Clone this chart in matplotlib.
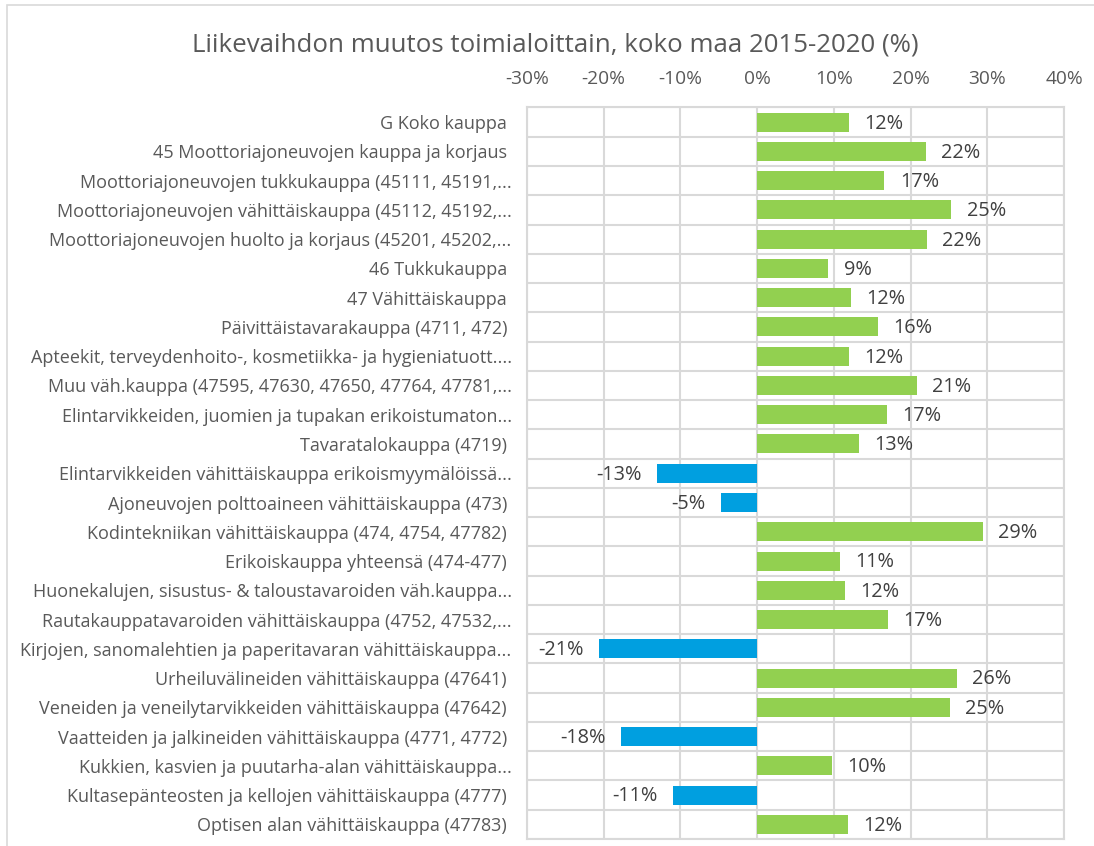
import matplotlib
matplotlib.use("Agg")
import matplotlib.pyplot as plt
from matplotlib.ticker import FixedLocator, FuncFormatter
from matplotlib.patches import Rectangle

categories = [
    "G Koko kauppa ",
    "45 Moottoriajoneuvojen kauppa ja korjaus ",
    "Moottoriajoneuvojen tukkukauppa (45111, 45191,...",
    "Moottoriajoneuvojen vähittäiskauppa (45112, 45192,...",
    "Moottoriajoneuvojen huolto ja korjaus (45201, 45202,...",
    "46 Tukkukauppa ",
    "47 Vähittäiskauppa ",
    "Päivittäistavarakauppa (4711, 472) ",
    "Apteekit, terveydenhoito-, kosmetiikka- ja hygieniatuott....",
    "Muu väh.kauppa (47595, 47630, 47650, 47764, 47781,...",
    "Elintarvikkeiden, juomien ja tupakan erikoistumaton...",
    "Tavaratalokauppa (4719) ",
    "Elintarvikkeiden vähittäiskauppa erikoismyymälöissä...",
    "Ajoneuvojen polttoaineen vähittäiskauppa (473) ",
    "Kodintekniikan vähittäiskauppa (474, 4754, 47782) ",
    "Erikoiskauppa yhteensä (474-477) ",
    "Huonekalujen, sisustus- & taloustavaroiden väh.kauppa...",
    "Rautakauppatavaroiden vähittäiskauppa (4752, 47532,...",
    "Kirjojen, sanomalehtien ja paperitavaran vähittäiskauppa...",
    "Urheiluvälineiden vähittäiskauppa (47641) ",
    "Veneiden ja veneilytarvikkeiden vähittäiskauppa (47642) ",
    "Vaatteiden ja jalkineiden vähittäiskauppa (4771, 4772) ",
    "Kukkien, kasvien ja puutarha-alan vähittäiskauppa...",
    "Kultasepänteosten ja kellojen vähittäiskauppa (4777) ",
    "Optisen alan vähittäiskauppa (47783) ",
]
values = [12.0, 22.0, 16.6, 25.3, 22.1, 9.3, 12.2, 15.7, 12.0, 20.8, 16.9, 13.3,
          -13.0, -4.7, 29.4, 10.8, 11.5, 17.0, -20.6, 26.0, 25.1, -17.8, 9.8, -11.0, 11.8]
labels = ["12%", "22%", "17%", "25%", "22%", "9%", "12%", "16%", "12%", "21%", "17%", "13%",
          "-13%", "-5%", "29%", "11%", "12%", "17%", "-21%", "26%", "25%", "-18%", "10%", "-11%", "12%"]
xticks = [-30, -20, -10, 0, 10, 20, 30, 40]
title = "Liikevaihdon muutos toimialoittain, koko maa 2015-2020 (%)"

FONT = ["Open Sans", "DejaVu Sans"]
plt.rcParams["font.family"] = FONT

GREEN = "#92D050"
BLUE = "#009FE0"
GRID = "#D9D9D9"
TXT = "#595959"
LBL = "#404040"

fig = plt.figure(figsize=(10.94, 8.46), dpi=100)
fig.patches.append(Rectangle((7 / 1094, -0.01), 1.0, 1 - 5 / 846 + 0.01, transform=fig.transFigure,
                             fill=False, edgecolor=GRID, linewidth=1.2))

ax = fig.add_axes([527 / 1094, 7 / 846, (1064 - 527) / 1094, (839 - 107.5) / 846])
n = len(categories)
ypos = list(range(n))
colors = [GREEN if v >= 0 else BLUE for v in values]
ax.barh(ypos, values, height=0.65, color=colors, zorder=3)

ax.set_xlim(-30, 40)
ax.set_ylim(n - 0.5, -0.5)
ax.xaxis.set_major_locator(FixedLocator(xticks))
ax.xaxis.set_major_formatter(FuncFormatter(lambda v, p: f"{int(v)}%"))
ax.xaxis.tick_top()
ax.tick_params(axis="x", length=0, pad=14, labelsize=13.8, labelcolor=TXT)
ax.set_yticks(ypos)
ax.set_yticklabels(categories)
ax.tick_params(axis="y", length=0, pad=11, labelsize=13, labelcolor=TXT)
ax.yaxis.set_minor_locator(FixedLocator([i + 0.5 for i in range(-1, n)]))
ax.grid(axis="x", which="major", color=GRID, linewidth=1.5, zorder=0)
ax.grid(axis="y", which="minor", color=GRID, linewidth=1.5, zorder=0)
ax.tick_params(axis="y", which="minor", length=0)
for s in ax.spines.values():
    s.set_color(GRID)
    s.set_linewidth(1.5)

for y, v, lab in zip(ypos, values, labels):
    if v >= 0:
        ax.annotate(lab, (v, y), xytext=(11, -1), textcoords="offset points",
                    ha="left", va="center", fontsize=14.3, color=LBL)
    else:
        ax.annotate(lab, (v, y), xytext=(-11, -1), textcoords="offset points",
                    ha="right", va="center", fontsize=14.3, color=LBL)

fig.text(555.5 / 1094, 1 - 45 / 846, title, ha="center", va="center", fontsize=18.6, color=TXT)

fig.savefig("out.png", dpi=100)
